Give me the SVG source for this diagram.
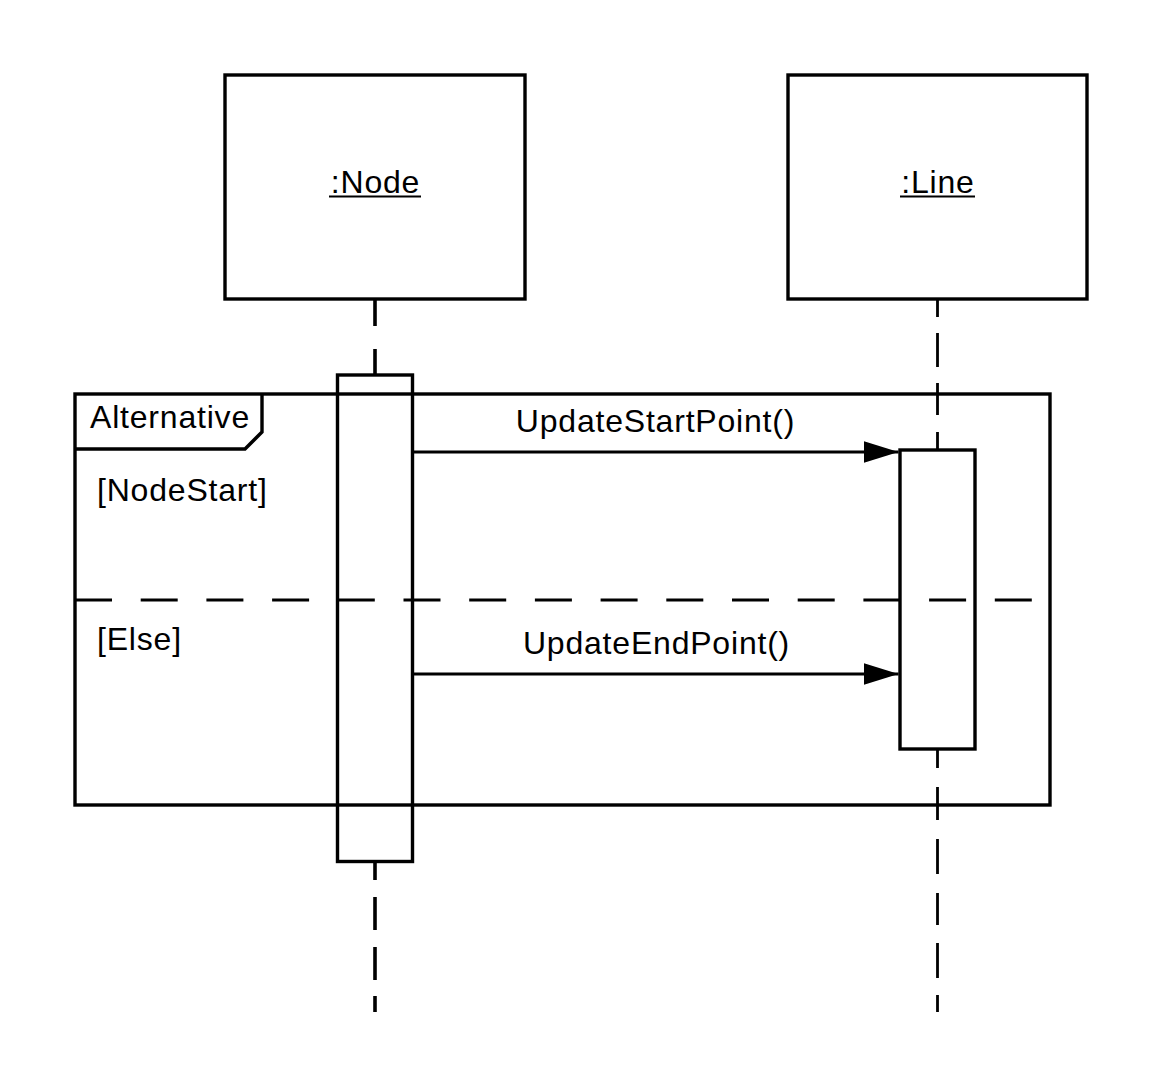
<svg xmlns="http://www.w3.org/2000/svg" width="1163" height="1088" viewBox="0 0 1163 1088">
<defs>
<style>
.box{fill:#fff;stroke:#000;stroke-width:3.4}
.act{fill:none;stroke:#000;stroke-width:3.4}
.frame{fill:none;stroke:#000;stroke-width:3.4}
.life{fill:none;stroke:#000}
.msg{fill:none;stroke:#000;stroke-width:3}
.t{font-family:"Liberation Sans",Arial,sans-serif;font-size:32px;letter-spacing:0.8px;fill:#000}
</style>
<marker id="arr" markerUnits="userSpaceOnUse" markerWidth="36" markerHeight="24" refX="35" refY="11" orient="auto">
<path d="M0,0 L35,11 L0,22 Z" fill="#000"/>
</marker>
</defs>
<rect width="1163" height="1088" fill="#fff"/>

<g id="node-Node">
<rect class="box" x="225" y="75" width="300" height="224"/>
<text class="t" x="375.5" y="193" text-anchor="middle">:Node</text>
<line x1="329" y1="196.5" x2="421" y2="196.5" stroke="#000" stroke-width="2.2"/>
<path class="life" stroke-width="3.6" d="M375,299V326M375,349V374M375,863V880M375,897V930M375,947V980M375,996V1012"/>
</g>

<g id="node-Line">
<rect class="box" x="788" y="75" width="299" height="224"/>
<text class="t" x="938" y="193" text-anchor="middle">:Line</text>
<line x1="900" y1="196.5" x2="975" y2="196.5" stroke="#000" stroke-width="2.2"/>
<path class="life" stroke-width="2.8" d="M937.5,299V317M937.5,333V367M937.5,383V415M937.5,432V449M937.5,750V768M937.5,787V820M937.5,839V874M937.5,893V925M937.5,943V978M937.5,995V1012"/>
</g>

<g id="frame-alt">
<rect class="frame" x="75" y="394" width="975" height="411"/>
<path class="frame" d="M75,449H245L262,432V394"/>
<text class="t" x="90" y="428">Alternative</text>
<text class="t" x="97" y="501">[NodeStart]</text>
<line x1="75" y1="600" x2="1032" y2="600" stroke="#000" stroke-width="3.2" stroke-dasharray="37 28.7"/>
<text class="t" x="97" y="650">[Else]</text>
</g>

<g id="act-Node">
<rect class="act" x="337.5" y="375" width="75" height="486.5"/>
</g>
<g id="act-Line">
<rect class="act" x="900" y="450" width="75" height="299"/>
</g>

<g id="connectors">
<line class="msg" x1="412.5" y1="452" x2="898.5" y2="452" marker-end="url(#arr)"/>
<text class="t" x="655.5" y="432" text-anchor="middle">UpdateStartPoint()</text>
<line class="msg" x1="412.5" y1="674" x2="898.5" y2="674" marker-end="url(#arr)"/>
<text class="t" x="656.5" y="654" text-anchor="middle">UpdateEndPoint()</text>
</g>
</svg>
